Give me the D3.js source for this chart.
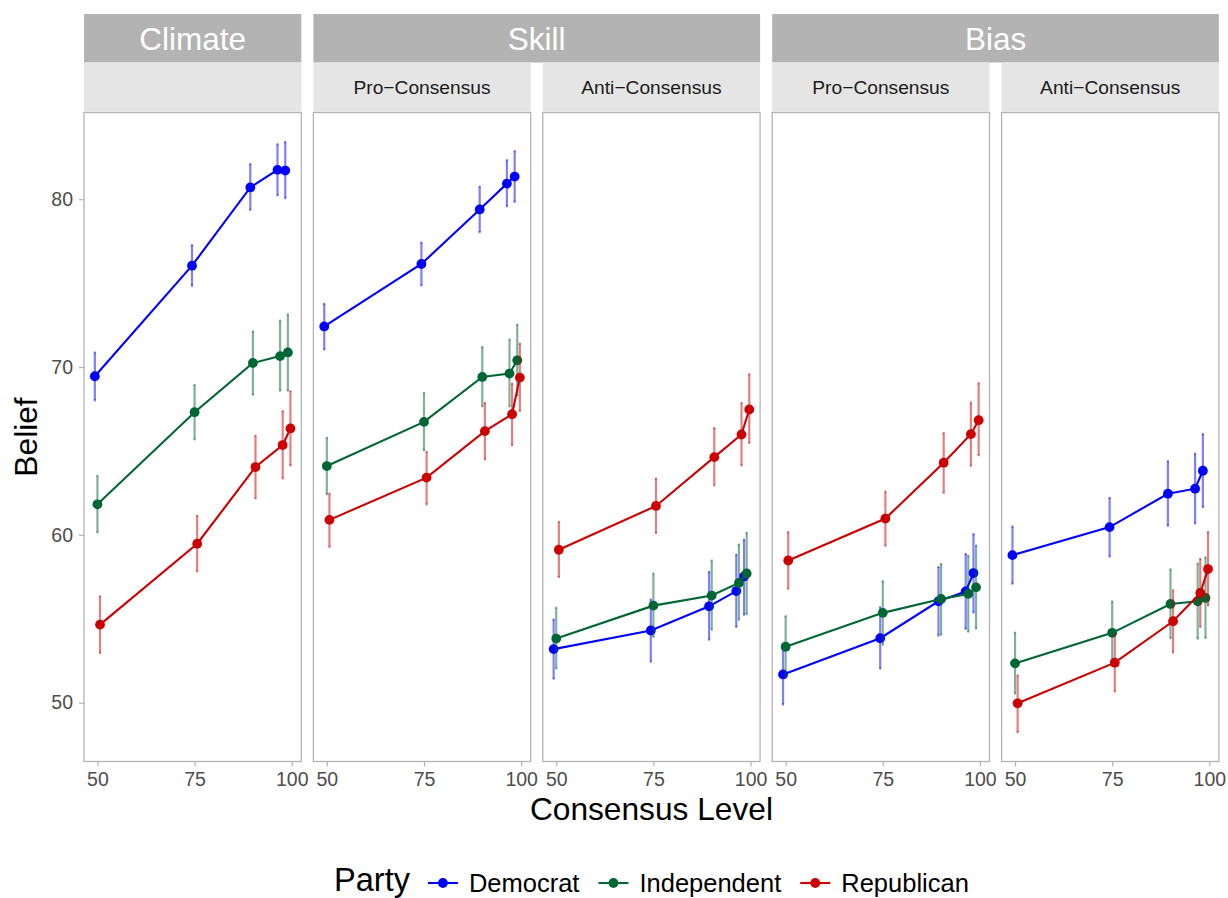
<!DOCTYPE html>
<html>
<head>
<meta charset="utf-8">
<script src="https://cdn.jsdelivr.net/npm/d3@7"></script>
<style>
  html, body { margin: 0; padding: 0; background: #fff; }
  svg { display: block; font-family: "Liberation Sans", Arial, Helvetica, sans-serif; }
</style>
</head>
<body>
<svg id="chart" width="1228" height="898"></svg>
<script>
// ---------------- DATA ----------------
const consensus = [50, 75, 90, 97, 99];
const parties = ["Democrat", "Independent", "Republican"];
const partyColors = ["#0000FF", "#006633", "#CC0000"];
const panelGroups = ["Climate", "Skill", "Skill", "Bias", "Bias"];
const panelSubs = ["", "Pro\u2212Consensus", "Anti\u2212Consensus", "Pro\u2212Consensus", "Anti\u2212Consensus"];
const yTicks = [50, 60, 70, 80];
const xTicks = [50, 75, 100];

// rows: Democrat, Independent, Republican
const climateMean = [[69.45, 76.04, 80.70, 81.75, 81.71], [61.82, 67.31, 70.24, 70.65, 70.87], [54.65, 59.47, 64.04, 65.35, 66.34]];
const climateLow  = [[68.02, 74.85, 79.37, 80.24, 80.07], [60.16, 65.69, 68.36, 68.60, 68.60], [52.97, 57.82, 62.18, 63.37, 64.14]];
const climateHigh = [[70.86, 77.25, 82.09, 83.27, 83.41], [63.51, 68.93, 72.12, 72.76, 73.13], [56.33, 61.13, 65.90, 67.37, 68.56]];

const skillProMean = [[72.42, 76.14, 79.39, 80.93, 81.35], [64.10, 66.73, 69.41, 69.61, 70.40], [60.89, 63.41, 66.18, 67.19, 69.37]];
const skillProLow  = [[71.05, 74.87, 78.04, 79.59, 79.85], [62.42, 65.05, 67.66, 67.66, 68.30], [59.29, 61.82, 64.50, 65.35, 67.39]];
const skillProHigh = [[73.77, 77.41, 80.74, 82.32, 82.86], [65.78, 68.44, 71.19, 71.63, 72.52], [62.45, 64.95, 67.86, 69.01, 71.39]];

const skillAntiMean = [[53.19, 54.30, 55.74, 56.65, 57.52], [53.82, 55.78, 56.38, 57.13, 57.70], [59.11, 61.72, 64.63, 65.98, 67.47]];
const skillAntiLow  = [[51.43, 52.45, 53.76, 54.52, 55.25], [52.04, 53.92, 54.36, 54.95, 55.29], [57.49, 60.12, 62.95, 64.14, 65.48]];
const skillAntiHigh = [[54.95, 56.14, 57.78, 58.81, 59.70], [55.66, 57.68, 58.46, 59.41, 60.12], [60.77, 63.35, 66.36, 67.86, 69.57]];

const biasProMean = [[51.68, 53.84, 56.04, 56.63, 57.72], [53.33, 55.35, 56.18, 56.48, 56.87], [58.47, 60.97, 64.30, 66.00, 66.83]];
const biasProLow  = [[49.90, 52.04, 54.00, 54.40, 55.38], [51.58, 53.46, 54.06, 54.24, 54.43], [56.79, 59.36, 62.51, 64.12, 64.75]];
const biasProHigh = [[53.46, 55.68, 58.08, 58.85, 60.04], [55.15, 57.23, 58.26, 58.75, 59.35], [60.16, 62.57, 66.06, 67.88, 69.03]];

const biasAntiMean = [[58.79, 60.46, 62.45, 62.75, 63.82], [52.34, 54.16, 55.88, 56.04, 56.24], [49.96, 52.38, 54.85, 56.54, 57.96]];
const biasAntiLow  = [[57.09, 58.71, 60.55, 60.69, 61.66], [50.55, 52.38, 53.84, 53.82, 53.86], [48.25, 50.67, 52.99, 54.52, 55.80]];
const biasAntiHigh = [[60.49, 62.20, 64.38, 64.83, 66.00], [54.16, 56.02, 57.94, 58.29, 58.65], [51.62, 54.06, 56.69, 58.56, 60.16]];

const panelMeans = [climateMean, skillProMean, skillAntiMean, biasProMean, biasAntiMean];
const panelLows  = [climateLow, skillProLow, skillAntiLow, biasProLow, biasAntiLow];
const panelHighs = [climateHigh, skillProHigh, skillAntiHigh, biasProHigh, biasAntiHigh];

// ---------------- LAYOUT ----------------
const svg = d3.select("#chart");
const FONT = '"Liberation Sans", Arial, Helvetica, sans-serif';
const panelTop = 112.5, panelBottom = 761.5;
const panelLeft0 = 84, panelStep = 229.4, panelW = 217.3;
const stripTop = 14, stripMid = 62.5, stripBot = 111.5;
const dodgeW = 2, capW = 0.5;
const dodge = i => (i - 1) * dodgeW / 3;

// x domain from dodged positions + errorbar caps, 5% expansion
const xMinD = d3.min(consensus) + dodge(0) - capW / 2;
const xMaxD = d3.max(consensus) + dodge(2) + capW / 2;
const xPad = (xMaxD - xMinD) * 0.05;
const allLow = d3.min(panelLows.flat(2)), allHigh = d3.max(panelHighs.flat(2));
const yPad = (allHigh - allLow) * 0.05;
const y = d3.scaleLinear().domain([allLow - yPad, allHigh + yPad]).range([panelBottom, panelTop]);

const panelX = k => panelLeft0 + k * panelStep;

// ---- strips ----
const groups = [];
panelGroups.forEach((g, k) => {
  if (groups.length && groups[groups.length - 1].label === g) groups[groups.length - 1].to = k;
  else groups.push({ label: g, from: k, to: k });
});
groups.forEach(g => {
  const x0 = panelX(g.from), x1 = panelX(g.to) + panelW;
  svg.append("rect").attr("x", x0).attr("y", stripTop).attr("width", x1 - x0).attr("height", stripMid - stripTop)
    .attr("fill", "#b3b3b3");
  svg.append("text").attr("x", (x0 + x1) / 2).attr("y", 49.5).attr("text-anchor", "middle")
    .attr("font-family", FONT).attr("font-size", 31.5).attr("fill", "#ffffff").text(g.label);
});
panelSubs.forEach((s, k) => {
  const x0 = panelX(k);
  svg.append("rect").attr("x", x0).attr("y", stripMid).attr("width", panelW).attr("height", stripBot - stripMid)
    .attr("fill", "#e5e5e5");
  if (s) svg.append("text").attr("x", x0 + panelW / 2).attr("y", 94).attr("text-anchor", "middle")
    .attr("font-family", FONT).attr("font-size", 19.2).attr("fill", "#1a1a1a").text(s);
});

// ---- panels ----
for (let k = 0; k < 5; k++) {
  const x0 = panelX(k);
  const x = d3.scaleLinear().domain([xMinD - xPad, xMaxD + xPad]).range([x0, x0 + panelW]);
  const g = svg.append("g");

  g.append("rect").attr("x", x0).attr("y", panelTop).attr("width", panelW).attr("height", panelBottom - panelTop)
    .attr("fill", "#fff");

  // x axis
  const xa = svg.append("g").attr("transform", `translate(0,${panelBottom})`)
    .call(d3.axisBottom(x).tickValues(xTicks).tickSize(5).tickPadding(6).tickFormat(d3.format("d")));
  xa.select(".domain").remove();
  xa.selectAll("line").attr("stroke", "#b3b3b3").attr("stroke-width", 1.2);
  xa.selectAll("text").attr("font-family", FONT).attr("font-size", 19.5).attr("fill", "#4d4d4d");

  if (k === 0) {
    const ya = svg.append("g").attr("transform", `translate(${x0},0)`)
      .call(d3.axisLeft(y).tickValues(yTicks).tickSize(5).tickPadding(6).tickFormat(d3.format("d")));
    ya.select(".domain").remove();
    ya.selectAll("line").attr("stroke", "#b3b3b3").attr("stroke-width", 1.2);
    ya.selectAll("text").attr("font-family", FONT).attr("font-size", 19.5).attr("fill", "#4d4d4d");
  }

  const means = panelMeans[k], lows = panelLows[k], highs = panelHighs[k];
  parties.forEach((p, i) => {
    const col = partyColors[i];
    const pts = consensus.map((c, j) => ({ cx: c + dodge(i), m: means[i][j], lo: lows[i][j], hi: highs[i][j] }));
    // error bars
    const eb = g.append("g").attr("stroke", col).attr("stroke-opacity", 0.5).attr("stroke-width", 2.2);
    pts.forEach(d => {
      eb.append("line").attr("x1", x(d.cx)).attr("x2", x(d.cx)).attr("y1", y(d.lo)).attr("y2", y(d.hi));
      eb.append("line").attr("x1", x(d.cx - capW / 2)).attr("x2", x(d.cx + capW / 2)).attr("y1", y(d.lo)).attr("y2", y(d.lo));
      eb.append("line").attr("x1", x(d.cx - capW / 2)).attr("x2", x(d.cx + capW / 2)).attr("y1", y(d.hi)).attr("y2", y(d.hi));
    });
    // line
    g.append("path").datum(pts)
      .attr("d", d3.line().x(d => x(d.cx)).y(d => y(d.m)))
      .attr("fill", "none").attr("stroke", col).attr("stroke-width", 2.1);
    // points
    g.selectAll(null).data(pts).enter().append("circle")
      .attr("cx", d => x(d.cx)).attr("cy", d => y(d.m)).attr("r", 4.9).attr("fill", col);
  });

  g.append("rect").attr("x", x0).attr("y", panelTop).attr("width", panelW).attr("height", panelBottom - panelTop)
    .attr("fill", "none").attr("stroke", "#b3b3b3").attr("stroke-width", 1.3);
}

// ---- axis titles ----
const plotCenterX = (panelX(0) + panelX(4) + panelW) / 2;
svg.append("text").attr("x", plotCenterX).attr("y", 820).attr("text-anchor", "middle")
  .attr("font-family", FONT).attr("font-size", 31.7).attr("fill", "#000").text("Consensus Level");
svg.append("text").attr("transform", `translate(37,${(panelTop + panelBottom) / 2}) rotate(-90)`)
  .attr("text-anchor", "middle").attr("font-family", FONT).attr("font-size", 31.7).attr("fill", "#000").text("Belief");

// ---- legend ----
const leg = svg.append("g");
const legY = 883;
let cx = 0;
const title = leg.append("text").attr("x", cx).attr("y", legY + 8).attr("font-family", FONT)
  .attr("font-size", 32.5).attr("fill", "#000").text("Party");
cx += title.node().getComputedTextLength() + 16;
parties.forEach((p, i) => {
  leg.append("line").attr("x1", cx + 2).attr("x2", cx + 32).attr("y1", legY).attr("y2", legY)
    .attr("stroke", partyColors[i]).attr("stroke-width", 2.1);
  leg.append("circle").attr("cx", cx + 17).attr("cy", legY).attr("r", 4.9).attr("fill", partyColors[i]);
  cx += 43;
  const t = leg.append("text").attr("x", cx).attr("y", legY + 9).attr("font-family", FONT)
    .attr("font-size", 25.5).attr("fill", "#000").text(p);
  cx += t.node().getComputedTextLength() + (i < parties.length - 1 ? 17 : 0);
});
leg.attr("transform", `translate(${plotCenterX - cx / 2},0)`);
</script>
</body>
</html>
